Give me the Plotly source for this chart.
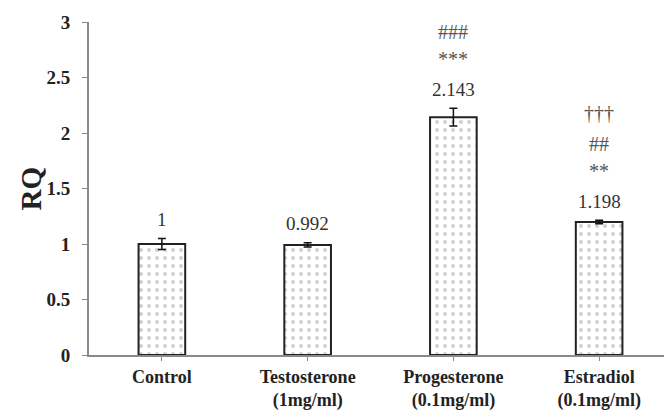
import plotly.graph_objects as go

categories = ["Control", "Testosterone<br>(1mg/ml)", "Progesterone<br>(0.1mg/ml)", "Estradiol<br>(0.1mg/ml)"]
rq_values = [1.0, 0.992, 2.143, 1.198]
rq_errors = [0.05, 0.02, 0.08, 0.015]
value_labels = ["1", "0.992", "2.143", "1.198"]
sig_star = ["", "", "***", "**"]
sig_hash = ["", "", "###", "##"]
sig_dagger = ["", "", "", "†††"]

FONT = "Liberation Serif, Times New Roman, serif"

fig = go.Figure()
fig.add_trace(go.Bar(
    x=categories, y=rq_values,
    width=0.32,
    marker=dict(color="white", line=dict(color="#222", width=2),
                pattern=dict(shape=".", size=8, solidity=0.2, fgcolor="#a0a0a0", bgcolor="white")),
    error_y=dict(type="data", array=rq_errors, visible=True, color="#111", thickness=1.5, width=4),
))

annotations = []
for i, cat in enumerate(categories):
    top = rq_values[i] + rq_errors[i]
    rows = [(value_labels[i], 19), (sig_star[i], 49), (sig_hash[i], 76), (sig_dagger[i], 107)]
    for j, (txt, shift) in enumerate(rows):
        if txt:
            annotations.append(dict(x=cat, y=top, text=txt, showarrow=False, yshift=shift,
                                    xref="x", yref="y", yanchor="middle",
                                    font=dict(family=FONT, size=19 if j == 0 else 20,
                                              color="#333" if j == 0 else "#555")))

annotations.append(dict(x=0, y=0.5, xref="paper", yref="paper", text="<b>RQ</b>", textangle=-90,
                        showarrow=False, xanchor="center", yanchor="middle", xshift=-59,
                        font=dict(family=FONT, size=29, color="#222")))

fig.update_layout(
    width=664, height=407,
    margin=dict(l=81, r=0, t=14, b=60, autoexpand=False),
    paper_bgcolor="white", plot_bgcolor="white",
    showlegend=False,
    annotations=annotations,
    font=dict(family=FONT, color="#222"),
    xaxis=dict(range=[-0.5, 3.5], showline=True, linecolor="#8a8a8a", linewidth=2,
               ticks="outside", ticklen=4, tickcolor="#8a8a8a", automargin=False,
               tickfont=dict(family=FONT, size=18, color="#222", weight="bold"),
               showgrid=False, zeroline=False),
    yaxis=dict(range=[0, 3], dtick=0.5, showline=True, linecolor="#8a8a8a", linewidth=2,
               ticks="outside", ticklen=5, tickcolor="#8a8a8a", automargin=False,
               ticklabelstandoff=8,
               tickfont=dict(family=FONT, size=19, color="#222", weight="bold"),
               showgrid=False, zeroline=False),
)

fig.write_html("out.html")
